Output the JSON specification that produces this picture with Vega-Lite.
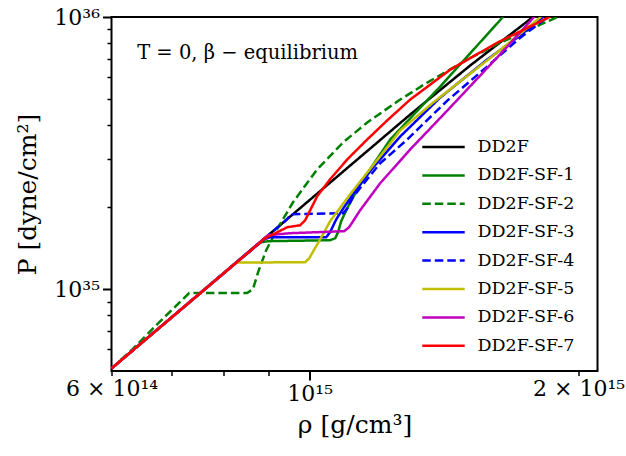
{
  "$schema": "https://vega.github.io/schema/vega-lite/v6.json",
  "width": 486,
  "height": 354,
  "autosize": {"type": "none"},
  "padding": {"left": 111.5, "top": 17, "right": 28.5, "bottom": 85},
  "config": {
    "view": {"stroke": "#000000", "strokeWidth": 2},
    "font": "DejaVu Serif",
    "axis": {"domain": false, "grid": false, "tickColor": "#000000", "labelColor": "#000000", "titleColor": "#000000", "labelFont": "DejaVu Serif", "titleFont": "DejaVu Serif", "titleFontWeight": "normal", "labelFlush": false, "labelOverlap": false, "labelBound": false}
  },
  "datasets": {
    "eos": [
      {"eos": "DD2F", "rho": 6.0e14, "P": 5.11e34},
      {"eos": "DD2F", "rho": 8.96e14, "P": 1.564e35},
      {"eos": "DD2F", "rho": 1.296e15, "P": 4.383e35},
      {"eos": "DD2F", "rho": 1.512e15, "P": 6.628e35},
      {"eos": "DD2F", "rho": 1.78e15, "P": 1.0025e36},

      {"eos": "DD2F-SF-1", "rho": 6.0e14, "P": 5.11e34},
      {"eos": "DD2F-SF-1", "rho": 8.69e14, "P": 1.438e35},
      {"eos": "DD2F-SF-1", "rho": 8.826e14, "P": 1.487e35},
      {"eos": "DD2F-SF-1", "rho": 8.985e14, "P": 1.5e35},
      {"eos": "DD2F-SF-1", "rho": 1.054e15, "P": 1.512e35},
      {"eos": "DD2F-SF-1", "rho": 1.068e15, "P": 1.538e35},
      {"eos": "DD2F-SF-1", "rho": 1.076e15, "P": 1.618e35},
      {"eos": "DD2F-SF-1", "rho": 1.0845e15, "P": 1.776e35},
      {"eos": "DD2F-SF-1", "rho": 1.11e15, "P": 2.085e35},
      {"eos": "DD2F-SF-1", "rho": 1.154e15, "P": 2.597e35},
      {"eos": "DD2F-SF-1", "rho": 1.231e15, "P": 3.548e35},
      {"eos": "DD2F-SF-1", "rho": 1.4e15, "P": 5.552e35},
      {"eos": "DD2F-SF-1", "rho": 1.647e15, "P": 1.0025e36},

      {"eos": "DD2F-SF-2", "rho": 6.0e14, "P": 5.11e34},
      {"eos": "DD2F-SF-2", "rho": 6.34e14, "P": 6.03e34},
      {"eos": "DD2F-SF-2", "rho": 6.77e14, "P": 7.5e34},
      {"eos": "DD2F-SF-2", "rho": 7.33e14, "P": 9.67e34},
      {"eos": "DD2F-SF-2", "rho": 8.51e14, "P": 9.67e34},
      {"eos": "DD2F-SF-2", "rho": 8.64e14, "P": 1.0e35},
      {"eos": "DD2F-SF-2", "rho": 8.756e14, "P": 1.154e35},
      {"eos": "DD2F-SF-2", "rho": 8.94e14, "P": 1.39e35},
      {"eos": "DD2F-SF-2", "rho": 9.195e14, "P": 1.66e35},
      {"eos": "DD2F-SF-2", "rho": 9.58e14, "P": 2.085e35},
      {"eos": "DD2F-SF-2", "rho": 1.0195e15, "P": 2.754e35},
      {"eos": "DD2F-SF-2", "rho": 1.09e15, "P": 3.46e35},
      {"eos": "DD2F-SF-2", "rho": 1.16e15, "P": 4.097e35},
      {"eos": "DD2F-SF-2", "rho": 1.263e15, "P": 4.974e35},
      {"eos": "DD2F-SF-2", "rho": 1.354e15, "P": 5.741e35},
      {"eos": "DD2F-SF-2", "rho": 1.501e15, "P": 6.973e35},
      {"eos": "DD2F-SF-2", "rho": 1.635e15, "P": 8.05e35},
      {"eos": "DD2F-SF-2", "rho": 1.897e15, "P": 1.0025e36},

      {"eos": "DD2F-SF-3", "rho": 6.0e14, "P": 5.11e34},
      {"eos": "DD2F-SF-3", "rho": 8.895e14, "P": 1.525e35},
      {"eos": "DD2F-SF-3", "rho": 9.03e14, "P": 1.551e35},
      {"eos": "DD2F-SF-3", "rho": 1.0435e15, "P": 1.551e35},
      {"eos": "DD2F-SF-3", "rho": 1.054e15, "P": 1.618e35},
      {"eos": "DD2F-SF-3", "rho": 1.071e15, "P": 1.806e35},
      {"eos": "DD2F-SF-3", "rho": 1.087e15, "P": 1.949e35},
      {"eos": "DD2F-SF-3", "rho": 1.124e15, "P": 2.288e35},
      {"eos": "DD2F-SF-3", "rho": 1.178e15, "P": 2.802e35},
      {"eos": "DD2F-SF-3", "rho": 1.263e15, "P": 3.639e35},
      {"eos": "DD2F-SF-3", "rho": 1.4e15, "P": 5.058e35},
      {"eos": "DD2F-SF-3", "rho": 1.58e15, "P": 6.973e35},
      {"eos": "DD2F-SF-3", "rho": 1.708e15, "P": 8.395e35},
      {"eos": "DD2F-SF-3", "rho": 1.826e15, "P": 1.0025e36},

      {"eos": "DD2F-SF-4", "rho": 6.0e14, "P": 5.11e34},
      {"eos": "DD2F-SF-4", "rho": 9.41e14, "P": 1.791e35},
      {"eos": "DD2F-SF-4", "rho": 9.535e14, "P": 1.884e35},
      {"eos": "DD2F-SF-4", "rho": 1.09e15, "P": 1.9e35},
      {"eos": "DD2F-SF-4", "rho": 1.102e15, "P": 1.982e35},
      {"eos": "DD2F-SF-4", "rho": 1.118e15, "P": 2.175e35},
      {"eos": "DD2F-SF-4", "rho": 1.145e15, "P": 2.406e35},
      {"eos": "DD2F-SF-4", "rho": 1.199e15, "P": 2.897e35},
      {"eos": "DD2F-SF-4", "rho": 1.286e15, "P": 3.548e35},
      {"eos": "DD2F-SF-4", "rho": 1.426e15, "P": 4.93e35},
      {"eos": "DD2F-SF-4", "rho": 1.58e15, "P": 6.572e35},
      {"eos": "DD2F-SF-4", "rho": 1.721e15, "P": 8.395e35},
      {"eos": "DD2F-SF-4", "rho": 1.85e15, "P": 1.0025e36},

      {"eos": "DD2F-SF-5", "rho": 6.0e14, "P": 5.11e34},
      {"eos": "DD2F-SF-5", "rho": 8.275e14, "P": 1.251e35},
      {"eos": "DD2F-SF-5", "rho": 9.885e14, "P": 1.256e35},
      {"eos": "DD2F-SF-5", "rho": 9.99e14, "P": 1.299e35},
      {"eos": "DD2F-SF-5", "rho": 1.0275e15, "P": 1.525e35},
      {"eos": "DD2F-SF-5", "rho": 1.054e15, "P": 1.776e35},
      {"eos": "DD2F-SF-5", "rho": 1.11e15, "P": 2.23e35},
      {"eos": "DD2F-SF-5", "rho": 1.199e15, "P": 3.075e35},
      {"eos": "DD2F-SF-5", "rho": 1.263e15, "P": 3.83e35},
      {"eos": "DD2F-SF-5", "rho": 1.375e15, "P": 4.85e35},
      {"eos": "DD2F-SF-5", "rho": 1.605e15, "P": 7.211e35},
      {"eos": "DD2F-SF-5", "rho": 1.816e15, "P": 1.0025e36},

      {"eos": "DD2F-SF-6", "rho": 6.0e14, "P": 5.11e34},
      {"eos": "DD2F-SF-6", "rho": 8.985e14, "P": 1.578e35},
      {"eos": "DD2F-SF-6", "rho": 9.51e14, "P": 1.605e35},
      {"eos": "DD2F-SF-6", "rho": 1.093e15, "P": 1.632e35},
      {"eos": "DD2F-SF-6", "rho": 1.107e15, "P": 1.688e35},
      {"eos": "DD2F-SF-6", "rho": 1.139e15, "P": 1.949e35},
      {"eos": "DD2F-SF-6", "rho": 1.199e15, "P": 2.447e35},
      {"eos": "DD2F-SF-6", "rho": 1.296e15, "P": 3.262e35},
      {"eos": "DD2F-SF-6", "rho": 1.426e15, "P": 4.533e35},
      {"eos": "DD2F-SF-6", "rho": 1.552e15, "P": 6.091e35},
      {"eos": "DD2F-SF-6", "rho": 1.664e15, "P": 7.78e35},
      {"eos": "DD2F-SF-6", "rho": 1.784e15, "P": 1.0025e36},

      {"eos": "DD2F-SF-7", "rho": 6.0e14, "P": 5.11e34},
      {"eos": "DD2F-SF-7", "rho": 8.917e14, "P": 1.538e35},
      {"eos": "DD2F-SF-7", "rho": 9.44e14, "P": 1.688e35},
      {"eos": "DD2F-SF-7", "rho": 9.76e14, "P": 1.717e35},
      {"eos": "DD2F-SF-7", "rho": 9.885e14, "P": 1.791e35},
      {"eos": "DD2F-SF-7", "rho": 1.0195e15, "P": 2.193e35},
      {"eos": "DD2F-SF-7", "rho": 1.054e15, "P": 2.532e35},
      {"eos": "DD2F-SF-7", "rho": 1.102e15, "P": 2.998e35},
      {"eos": "DD2F-SF-7", "rho": 1.16e15, "P": 3.548e35},
      {"eos": "DD2F-SF-7", "rho": 1.221e15, "P": 4.166e35},
      {"eos": "DD2F-SF-7", "rho": 1.296e15, "P": 4.974e35},
      {"eos": "DD2F-SF-7", "rho": 1.437e15, "P": 6.408e35},
      {"eos": "DD2F-SF-7", "rho": 1.622e15, "P": 8.05e35},
      {"eos": "DD2F-SF-7", "rho": 1.859e15, "P": 1.0025e36}
    ]
  },
  "layer": [
    {
      "data": {"name": "eos"},
      "mark": {"type": "line", "strokeWidth": 2.5, "clip": true},
      "encoding": {
        "x": {
          "field": "rho", "type": "quantitative",
          "scale": {"type": "log", "domain": [6e14, 2.1e15], "nice": false},
          "axis": {"orient": "bottom", "values": [1e15], "labelExpr": "'10¹⁵'", "tickSize": 9, "tickWidth": 2, "labelFontSize": 22, "labelPadding": 3, "title": "ρ [g/cm³]", "titleFontSize": 25, "titlePadding": 8}
        },
        "y": {
          "field": "P", "type": "quantitative",
          "scale": {"type": "log", "domain": [5e34, 1e36], "nice": false},
          "axis": {"orient": "left", "values": [1e35, 1e36], "labelExpr": "datum.value > 5e35 ? '10³⁶' : '10³⁵'", "tickSize": 9, "tickWidth": 2, "labelFontSize": 22, "labelPadding": 3, "title": "P [dyne/cm²]", "titleFontSize": 25, "titlePadding": 13}
        },
        "color": {
          "field": "eos", "type": "nominal",
          "scale": {"domain": ["DD2F", "DD2F-SF-1", "DD2F-SF-2", "DD2F-SF-3", "DD2F-SF-4", "DD2F-SF-5", "DD2F-SF-6", "DD2F-SF-7"], "range": ["#000000", "#008000", "#008000", "#0000ff", "#0000ff", "#bfbf00", "#bf00bf", "#ff0000"]},
          "legend": {"title": null, "orient": "none", "legendX": 320, "legendY": 118, "symbolType": "M-2,0H2", "symbolSize": 450, "symbolStrokeWidth": 2.5, "labelFontSize": 17.5, "labelFont": "DejaVu Serif", "labelColor": "#000000", "labelOffset": 22, "labelLimit": 0, "padding": 0, "rowPadding": 7.4}
        },
        "strokeDash": {
          "field": "eos", "type": "nominal",
          "scale": {"domain": ["DD2F", "DD2F-SF-1", "DD2F-SF-2", "DD2F-SF-3", "DD2F-SF-4", "DD2F-SF-5", "DD2F-SF-6", "DD2F-SF-7"], "range": [[1, 0], [1, 0], [8.5, 4], [1, 0], [8.5, 4], [1, 0], [1, 0], [1, 0]]},
          "legend": {"title": null, "orient": "none", "legendX": 320, "legendY": 118, "symbolType": "M-2,0H2", "symbolSize": 450, "symbolStrokeWidth": 2.5, "labelFontSize": 17.5, "labelFont": "DejaVu Serif", "labelColor": "#000000", "labelOffset": 22, "labelLimit": 0, "padding": 0, "rowPadding": 7.4}
        }
      }
    },
    {
      "data": {"name": "eos"},
      "mark": {"type": "line", "opacity": 0, "clip": true},
      "encoding": {
        "x": {
          "field": "rho", "type": "quantitative",
          "scale": {"type": "log", "domain": [6e14, 2.1e15], "nice": false},
          "axis": {"orient": "bottom", "values": [6e14, 7e14, 8e14, 9e14, 2e15], "labelExpr": "datum.value < 6.5e14 ? '6 × 10¹⁴' : (datum.value > 1.5e15 ? '2 × 10¹⁵' : '')", "tickSize": 4.5, "tickWidth": 1.5, "labelFontSize": 22, "labelPadding": 3, "title": null}
        },
        "y": {
          "field": "P", "type": "quantitative",
          "scale": {"type": "log", "domain": [5e34, 1e36], "nice": false},
          "axis": {"orient": "left", "values": [6e34, 7e34, 8e34, 9e34, 2e35, 3e35, 4e35, 5e35, 6e35, 7e35, 8e35, 9e35], "labels": false, "tickSize": 4.5, "tickWidth": 1.5, "title": null}
        },
        "detail": {"field": "eos"}
      }
    },
    {
      "data": {"values": [{"note": "T = 0,  β − equilibrium"}]},
      "mark": {"type": "text", "align": "left", "baseline": "middle", "fontSize": 19.5, "font": "DejaVu Serif", "color": "#000000"},
      "encoding": {
        "x": {"datum": 6.41e14, "type": "quantitative", "axis": null},
        "y": {"datum": 7.4e35, "type": "quantitative", "axis": null},
        "text": {"field": "note"}
      }
    }
  ],
  "resolve": {"axis": {"x": "independent", "y": "independent"}}
}
